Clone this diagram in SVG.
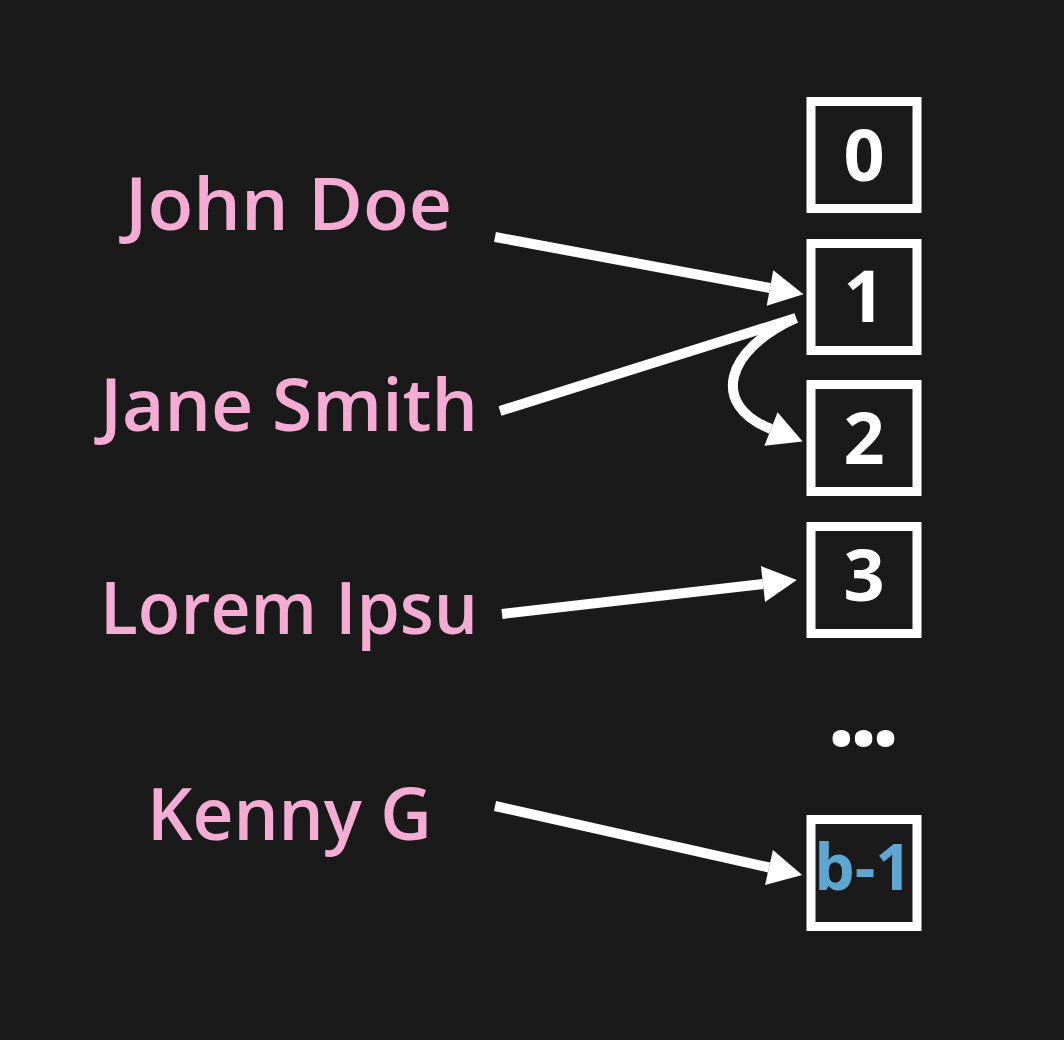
<svg xmlns="http://www.w3.org/2000/svg" width="1064" height="1040" viewBox="0 0 1064 1040">
<style>
.bg{fill:#1a1a1a}
.box{fill:#1a1a1a;stroke:#ffffff;stroke-width:9}
.num{font-family:"Open Sans","Liberation Sans",sans-serif;font-weight:700;font-size:72px;fill:#ffffff;text-anchor:middle}
.blue{fill:#5ea6d2;font-size:64px}
.lbl{font-family:"Open Sans","Liberation Sans",sans-serif;font-weight:600;font-size:73px;fill:#f5acd4;text-anchor:middle}
.edge{fill:none;stroke:#ffffff;stroke-width:10}
</style>
<defs>
<marker id="ah" markerUnits="userSpaceOnUse" markerWidth="40" markerHeight="40" refX="0" refY="18" orient="auto" overflow="visible">
<path d="M0,0 L34,18 L0,36 Z" fill="#ffffff"/>
</marker>
</defs>
<rect class="bg" x="0" y="0" width="1064" height="1040"/>
<g id="connectors">
<path class="edge" d="M495,237 L770,288" marker-end="url(#ah)"/>
<path class="edge" d="M500,411 L796,318"/>
<path class="edge" d="M796,318 C725,350 710,405 771,429" marker-end="url(#ah)"/>
<path class="edge" d="M502,614 L763,584" marker-end="url(#ah)"/>
<path class="edge" d="M495,806 L769,867.5" marker-end="url(#ah)"/>
</g>
<g id="label-john"><text class="lbl" x="288.5" y="230" textLength="327" lengthAdjust="spacingAndGlyphs">John Doe</text></g>
<g id="label-jane"><text class="lbl" x="289" y="431" textLength="378" lengthAdjust="spacingAndGlyphs">Jane Smith</text></g>
<g id="label-lorem"><text class="lbl" x="289" y="634" textLength="378" lengthAdjust="spacingAndGlyphs">Lorem Ipsu</text></g>
<g id="label-kenny"><text class="lbl" x="289.5" y="840" textLength="285" lengthAdjust="spacingAndGlyphs">Kenny G</text></g>
<g id="bucket-0"><rect class="box" x="811" y="101.5" width="106" height="107"/><text class="num" x="864" y="181">0</text></g>
<g id="bucket-1"><rect class="box" x="811" y="243.5" width="106" height="107"/><text class="num" x="864" y="322">1</text></g>
<g id="bucket-2"><rect class="box" x="811" y="384.5" width="106" height="107"/><text class="num" x="864" y="464">2</text></g>
<g id="bucket-3"><rect class="box" x="811" y="526.5" width="106" height="107"/><text class="num" x="864" y="601">3</text></g>
<g id="ellipsis"><text class="num" x="860" y="746" style="font-size:102px;letter-spacing:-7px">...</text></g>
<g id="bucket-b1"><rect class="box" x="811" y="819.5" width="106" height="107"/><text class="num blue" x="863" y="890">b-1</text></g>
</svg>
